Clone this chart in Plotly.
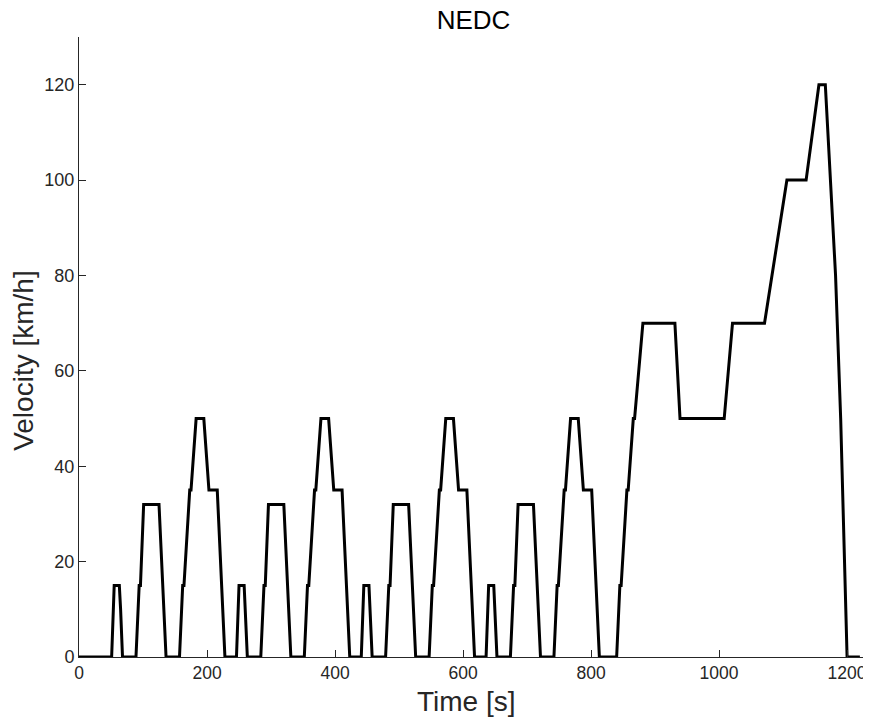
import plotly.graph_objects as go

# NEDC cycle (40 s initial idle, 4x ECE-15 + EUDC)
time_s = [0, 40, 51, 55, 63, 65, 68, 89, 94, 96, 101, 125, 133, 136, 157, 162, 164, 173, 175, 183, 195, 203, 216, 225, 228,
          246, 250, 258, 260, 263, 284, 289, 291, 296, 320, 328, 331, 352, 357, 359, 368, 370, 378, 390, 398, 411, 420, 423,
          441, 445, 453, 455, 458, 479, 484, 486, 491, 515, 523, 526, 547, 552, 554, 563, 565, 573, 585, 593, 606, 615, 618,
          636, 640, 648, 650, 653, 674, 679, 681, 686, 710, 718, 721, 742, 747, 749, 758, 760, 768, 780, 788, 801, 810, 813,
          840, 845, 847, 856, 858, 866, 868, 881, 931, 939, 1008, 1021, 1071, 1106, 1136, 1156, 1166, 1182, 1190, 1200, 1220]
speed_kmh = [0, 0, 0, 15, 15, 10, 0, 0, 15, 15, 32, 32, 10, 0, 0, 15, 15, 35, 35, 50, 50, 35, 35, 10, 0,
             0, 15, 15, 10, 0, 0, 15, 15, 32, 32, 10, 0, 0, 15, 15, 35, 35, 50, 50, 35, 35, 10, 0,
             0, 15, 15, 10, 0, 0, 15, 15, 32, 32, 10, 0, 0, 15, 15, 35, 35, 50, 50, 35, 35, 10, 0,
             0, 15, 15, 10, 0, 0, 15, 15, 32, 32, 10, 0, 0, 15, 15, 35, 35, 50, 50, 35, 35, 10, 0,
             0, 15, 15, 35, 35, 50, 50, 70, 70, 50, 50, 70, 70, 100, 100, 120, 120, 80, 50, 0, 0]

x_ticks = [0, 200, 400, 600, 800, 1000, 1200]
y_ticks = [0, 20, 40, 60, 80, 100, 120]

fig = go.Figure()
fig.add_trace(go.Scatter(x=time_s, y=speed_kmh, mode="lines",
                         line=dict(color="black", width=3), showlegend=False))

axis_col = "#262626"
# page body has an 8px margin, so the figure is sized/offset to compensate
fig.update_layout(
    width=863, height=712,
    margin=dict(l=71, r=6, t=29, b=63, autoexpand=False),
    paper_bgcolor="white", plot_bgcolor="white",
    font=dict(family="Liberation Sans, Arial, sans-serif", color=axis_col),
    title=dict(text="NEDC", x=0.5394, xanchor="center", y=0.983, yanchor="middle",
               font=dict(size=26, color="black")),
    xaxis=dict(range=[0, 1228], tickvals=x_ticks, ticks="inside", ticklen=7,
               tickcolor=axis_col, showline=True, linecolor=axis_col, linewidth=1,
               showgrid=False, zeroline=False, tickfont=dict(size=17.5, color=axis_col),
               automargin=False, ticklabeloverflow="allow"),
    yaxis=dict(range=[0, 130], tickvals=y_ticks, ticks="inside", ticklen=7,
               tickcolor=axis_col, showline=True, linecolor=axis_col, linewidth=1,
               showgrid=False, zeroline=False, tickfont=dict(size=18, color=axis_col),
               automargin=False, ticklabeloverflow="allow"),
    annotations=[
        dict(text="Time [s]", xref="paper", yref="paper", x=0.4936, y=-0.071,
             xanchor="center", yanchor="middle", showarrow=False,
             font=dict(size=28, color=axis_col)),
        dict(text="Velocity [km/h]", xref="paper", yref="paper", x=-0.071, y=0.478,
             xanchor="center", yanchor="middle", showarrow=False, textangle=-90,
             font=dict(size=28, color=axis_col)),
    ],
)
fig.write_html("out.html")
